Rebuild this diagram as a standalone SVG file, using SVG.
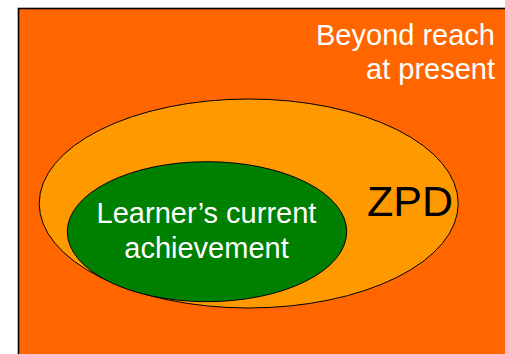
<svg xmlns="http://www.w3.org/2000/svg" width="505" height="354" viewBox="0 0 505 354">
  <style>
    .lbl { font-family: "Liberation Sans", Arial, sans-serif; }
    .light { fill: #ffffff; }
    .dark { fill: #000000; }
    .zone { stroke: #000000; stroke-width: 1; }
  </style>
  <rect width="505" height="354" fill="#ffffff"/>
  <!-- outer region: everything beyond reach -->
  <g id="beyond">
    <rect x="18.5" y="8.5" width="500" height="360" fill="#ff6600" stroke="#000000" stroke-width="1.6"/>
    <text class="lbl light" font-size="29" text-anchor="end" x="495" y="44.5">Beyond reach</text>
    <text class="lbl light" font-size="29" text-anchor="end" x="495" y="78.5">at present</text>
  </g>
  <!-- zone of proximal development -->
  <g id="zpd">
    <ellipse class="zone" cx="248.7" cy="203.5" rx="209.5" ry="104.5" fill="#ff9900"/>
    <text class="lbl dark" x="410" y="216" font-size="43" text-anchor="middle">ZPD</text>
  </g>
  <!-- current achievement -->
  <g id="current">
    <ellipse class="zone" cx="207" cy="231.7" rx="139.7" ry="70" fill="#008000"/>
    <text class="lbl light" font-size="29" text-anchor="middle" x="206.5" y="223">Learner’s current</text>
    <text class="lbl light" font-size="29" text-anchor="middle" x="206.5" y="258">achievement</text>
  </g>
  <g id="connectors"/>
</svg>
